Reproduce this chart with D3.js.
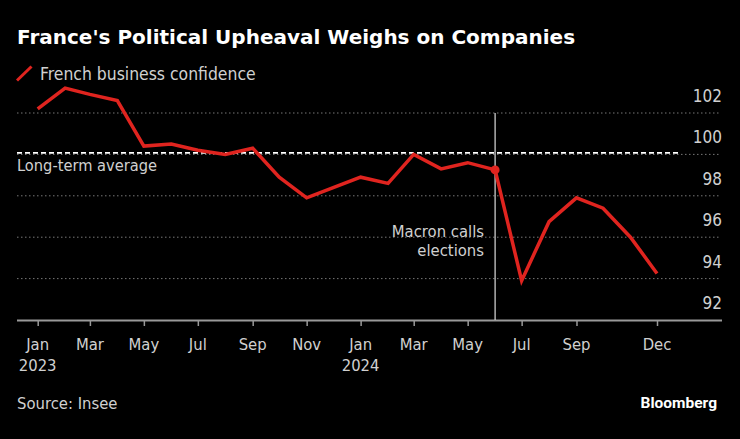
<!DOCTYPE html>
<html>
<head>
<meta charset="utf-8">
<script src="https://cdn.jsdelivr.net/npm/d3@7"></script>
<style>
  html, body { margin: 0; padding: 0; background: #000; }
  svg { display: block; }
  text { font-family: "DejaVu Sans Condensed", "DejaVu Sans", sans-serif; }
</style>
</head>
<body>
<svg id="chart" width="740" height="439"></svg>
<script>
const months = ["2023-01","2023-02","2023-03","2023-04","2023-05","2023-06","2023-07","2023-08","2023-09","2023-10","2023-11","2023-12",
                "2024-01","2024-02","2024-03","2024-04","2024-05","2024-06","2024-07","2024-08","2024-09","2024-10","2024-11","2024-12"];
const confidence = [102.2, 103.2, 102.9, 102.6, 100.4, 100.5, 100.2, 100.0, 100.3, 98.9, 97.9, 98.4,
                    98.9, 98.6, 100.0, 99.3, 99.6, 99.25, 93.9, 96.75, 97.9, 97.4, 96.0, 94.25];
const yTicks = [92, 94, 96, 98, 100, 102];
const xTickMonths = ["2023-01","2023-03","2023-05","2023-07","2023-09","2023-11","2024-01","2024-03","2024-05","2024-07","2024-09","2024-12"];
const longTermAverage = 100;
const eventMonth = "2024-06";
const eventLabel = ["Macron calls", "elections"];
const title = "France's Political Upheaval Weighs on Companies";
const seriesName = "French business confidence";
const source = "Source: Insee";

const parse = d3.timeParse("%Y-%m");
const data = months.map((m, i) => ({ date: parse(m), value: confidence[i] }));

const svg = d3.select("#chart");
const x = d3.scaleTime().domain([parse("2023-01"), parse("2024-12")]).range([37.7, 657]);
const y = d3.scaleLinear().domain([92, 102]).range([320, 113]);
const left = 17, right = 722;
const red = "#e0241f";
const textGrey = "#d0d0d0";

// Title
svg.append("text").attr("x", 17).attr("y", 44)
  .style("font-family", "'DejaVu Sans', sans-serif")
  .attr("fill", "#fff").attr("font-size", 20).attr("font-weight", "bold")
  .text(title);

// Legend
svg.append("line").attr("x1", 17).attr("y1", 80.5).attr("x2", 31.5).attr("y2", 66.5)
  .attr("stroke", red).attr("stroke-width", 3);
svg.append("text").attr("x", 40).attr("y", 79.5)
  .attr("fill", textGrey).attr("font-size", 17.4).text(seriesName);

// Grid lines
const g = svg.append("g");
g.selectAll("line.grid").data(yTicks.filter(t => t !== 92)).join("line")
  .attr("class", "grid")
  .attr("x1", left).attr("x2", right - 2)
  .attr("y1", d => y(d)).attr("y2", d => y(d))
  .attr("stroke", "#777").attr("stroke-width", 1).attr("stroke-dasharray", "1.5,2.5");

// Y labels
g.selectAll("text.ylab").data(yTicks).join("text")
  .attr("class", "ylab")
  .attr("x", right).attr("y", d => y(d) - 11)
  .attr("text-anchor", "end").attr("fill", textGrey).attr("font-size", 17)
  .text(d => d);

// Long-term average dashed
svg.append("line").attr("x1", left).attr("x2", 678)
  .attr("y1", y(longTermAverage) - 1.5).attr("y2", y(longTermAverage) - 1.5)
  .attr("stroke", "#fff").attr("stroke-width", 1.8).attr("stroke-dasharray", "5,3");
svg.append("text").attr("x", left).attr("y", 170.7)
  .attr("fill", textGrey).attr("font-size", 16.3).text("Long-term average");

// X axis
const xAxis = d3.axisBottom(x)
  .tickValues(xTickMonths.map(parse))
  .tickSize(6)
  .tickFormat(() => "");
const ax = svg.append("g").attr("transform", `translate(0,${y(92)})`).call(xAxis);
ax.select(".domain").attr("d", `M${left},0.5H${right}`).attr("stroke", "#999").attr("stroke-width", 2);
ax.selectAll(".tick line").attr("stroke", "#999").attr("stroke-width", 1.5);
xTickMonths.forEach(m => {
  const d = parse(m);
  svg.append("text").attr("x", x(d)).attr("y", 349.5)
    .attr("text-anchor", "middle").attr("fill", textGrey).attr("font-size", 16.5)
    .text(d3.timeFormat("%b")(d));
  if (d.getMonth() === 0) {
    svg.append("text").attr("x", x(d)).attr("y", 370.5)
      .attr("text-anchor", "middle").attr("fill", textGrey).attr("font-size", 16.5)
      .text(d3.timeFormat("%Y")(d));
  }
});

// Event vertical line
const ex = x(parse(eventMonth));
svg.append("line").attr("x1", ex).attr("x2", ex).attr("y1", y(102)).attr("y2", y(92))
  .attr("stroke", "#ddd").attr("stroke-width", 1.2);
eventLabel.forEach((t, i) => {
  svg.append("text").attr("x", 484).attr("y", 237 + i * 19)
    .attr("text-anchor", "end").attr("fill", textGrey).attr("font-size", 16.5).text(t);
});

// Line
const line = d3.line().x(d => x(d.date)).y(d => y(d.value));
svg.append("path").datum(data).attr("d", line)
  .attr("fill", "none").attr("stroke", red).attr("stroke-width", 3.5)
  .attr("stroke-linejoin", "miter");
const ev = data.find(d => +d.date === +parse(eventMonth));
svg.append("circle").attr("cx", x(ev.date)).attr("cy", y(ev.value)).attr("r", 4.5).attr("fill", red);

// Source & branding
svg.append("text").attr("x", left).attr("y", 409)
  .attr("fill", textGrey).attr("font-size", 16.5).text(source);
svg.append("text").attr("x", 717).attr("y", 408).attr("text-anchor", "end")
  .attr("fill", "#fff").attr("font-size", 15.5).attr("font-weight", "bold")
  .style("font-family", "Roboto, 'Open Sans', sans-serif").text("Bloomberg");
</script>
</body>
</html>
